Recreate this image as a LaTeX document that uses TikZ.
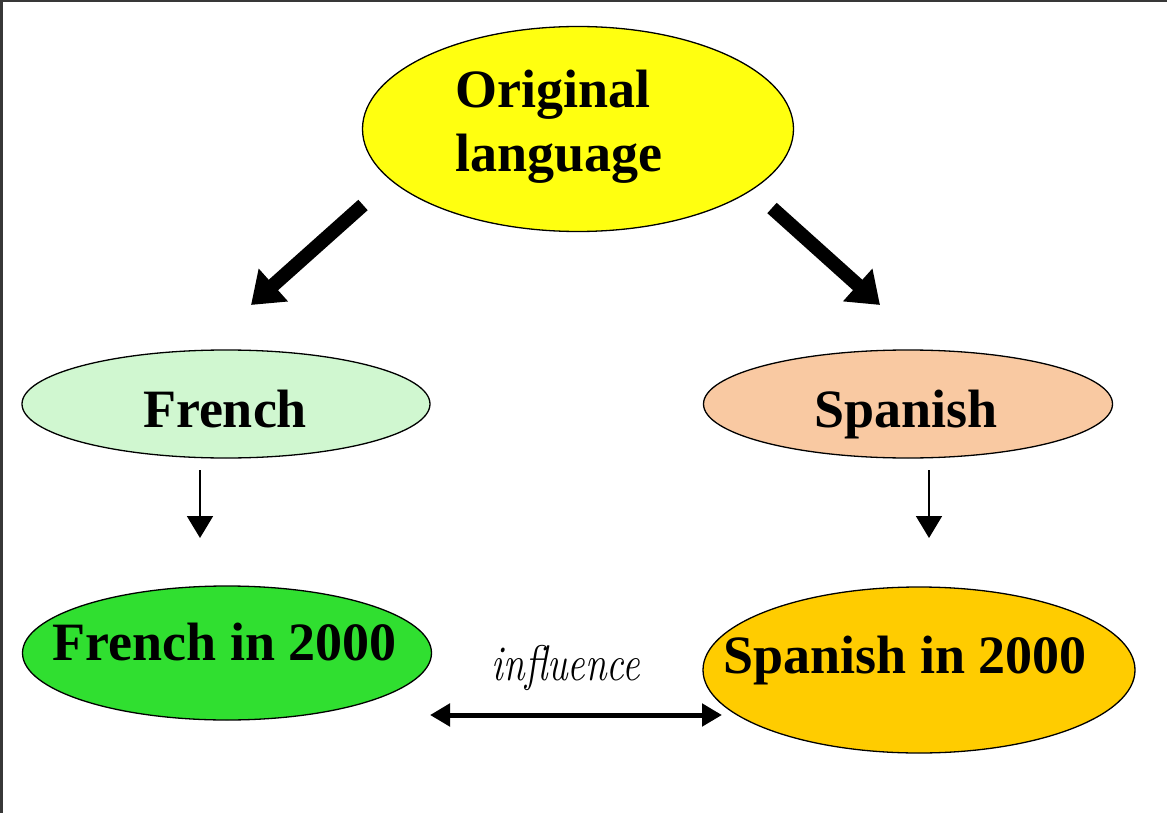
\documentclass[tikz,border=0pt]{standalone}
\usepackage{fontspec}
\setmainfont{Liberation Serif}
\newfontfamily\lmfont{Latin Modern Roman}
\usetikzlibrary{shapes.geometric,arrows.meta}
\definecolor{framegray}{HTML}{383838}
\definecolor{yellowc}{HTML}{FFFF10}
\definecolor{frenchc}{HTML}{D0F7D0}
\definecolor{spanishc}{HTML}{F9C9A2}
\definecolor{frenchtwo}{HTML}{30DF30}
\definecolor{spanishtwo}{HTML}{FFCC00}
\begin{document}
\begin{tikzpicture}[x=1pt,y=-1pt,
  oval/.style={ellipse,draw=black,line width=1.3pt,inner sep=0pt},
  lbl/.style={font=\fontsize{54}{64}\selectfont\bfseries,inner sep=0pt,anchor=base},
  bigarrow/.style={line width=14pt,-{Triangle[length=30pt,width=42pt]}},
  thinarrow/.style={line width=1.8pt,-{Triangle[length=22pt,width=26pt]}},
  duoarrow/.style={line width=5pt,{Triangle[length=20pt,width=22pt]}-{Triangle[length=20pt,width=22pt]}}]
\useasboundingbox (0,0) rectangle (1167,813);
\fill[white] (0,0) rectangle (1167,813);
\fill[framegray] (0,0) rectangle (1167,2.5);
\fill[framegray] (0,0) rectangle (3,813);

\node[oval,fill=yellowc,minimum width=431pt,minimum height=205pt] (orig) at (578,129) {};
\node[oval,fill=frenchc,minimum width=408pt,minimum height=108pt] (french) at (226,404) {};
\node[oval,fill=spanishc,minimum width=409pt,minimum height=108pt] (spanish) at (908,404) {};
\node[oval,fill=frenchtwo,minimum width=409pt,minimum height=134pt] (french2) at (227,653) {};
\node[oval,fill=spanishtwo,minimum width=432pt,minimum height=166pt] (spanish2) at (919,670) {};

\node[lbl,anchor=base west] (t1) at (455,108) {Original};
\node[lbl,anchor=base west] (t2) at (455,172) {language};
\node[lbl] (t3) at (225,427) {French};
\node[lbl] (t4) at (225,660) {French in 2000};
\node[lbl] (t5) at (906,427) {Spanish};
\node[lbl] (t6) at (905,673) {Spanish in 2000};
\node[font=\lmfont\itshape\fontsize{50}{60}\selectfont,xscale=0.78,anchor=base,inner sep=0pt] (infl) at (566,680) {influence};

\coordinate (l1) at (363,205); \coordinate (l2) at (251,305);
\coordinate (r1) at (772,208); \coordinate (r2) at (880,305);
\coordinate (fa) at (200,470); \coordinate (fb) at (200,538);
\coordinate (sa) at (929,470); \coordinate (sb) at (929,538);
\coordinate (ia) at (430,715); \coordinate (ib) at (722,715);

\draw[bigarrow] (l1) -- (l2);
\draw[bigarrow] (r1) -- (r2);
\draw[thinarrow] (fa) -- (fb);
\draw[thinarrow] (sa) -- (sb);
\draw[duoarrow] (ia) -- (ib);
\end{tikzpicture}
\end{document}
